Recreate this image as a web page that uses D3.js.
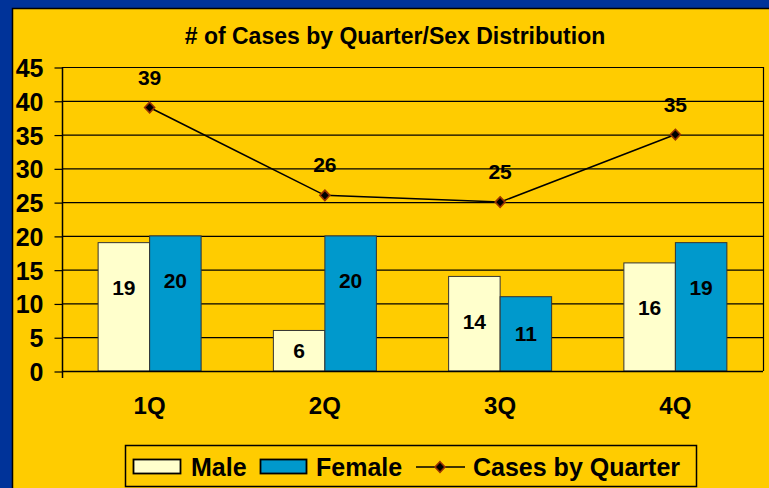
<!DOCTYPE html>
<html><head><meta charset="utf-8">
<script src="https://cdn.jsdelivr.net/npm/d3@7"></script>
<style>body{margin:0;background:#003399;} svg{display:block;} text{font-family:Arial,"Liberation Sans",sans-serif;font-weight:bold;fill:#000;}</style>
</head><body>
<svg id="c" width="769" height="488"></svg>
<script>
const categories = ["1Q","2Q","3Q","4Q"];
const maleValues = [19, 6, 14, 16];
const femaleValues = [20, 20, 11, 19];
const totalValues = [39, 26, 25, 35];
const yTicks = [0,5,10,15,20,25,30,35,40,45];
const title = "# of Cases by Quarter/Sex Distribution";
const seriesNames = ["Male","Female","Cases by Quarter"];

const svg = d3.select("#c");
svg.append("rect").attr("x",0).attr("y",0).attr("width",769).attr("height",488).attr("fill","#003399");
svg.append("rect").attr("x",12.5).attr("y",8.5).attr("width",800).attr("height",500)
  .attr("fill","#FFCC00").attr("stroke","#000").attr("stroke-width",1.5);

const L=62, R=763, T=67, B=371;
const x = d3.scaleBand().domain(categories).range([L,R]);
const y = d3.scaleLinear().domain([0,45]).range([B,T]);
const bw = 51.5;

svg.append("text").attr("x",395).attr("y",44).attr("text-anchor","middle").attr("font-size",23).text(title);

// gridlines
svg.append("g").selectAll("line").data(yTicks).join("line")
  .attr("x1",L).attr("x2",R).attr("y1",d=>y(d)+0.5).attr("y2",d=>y(d)+0.5)
  .attr("stroke","#000").attr("stroke-width",1.2);
svg.append("line").attr("x1",R+0.5).attr("x2",R+0.5).attr("y1",T).attr("y2",B).attr("stroke","#000").attr("stroke-width",1.2);

// y axis
const yAxis = d3.axisLeft(y).tickValues(yTicks).tickSize(8).tickPadding(11);
const gy = svg.append("g").attr("transform",`translate(${L+0.5},0.5)`).call(yAxis);
gy.select(".domain").remove();
gy.selectAll(".tick line").attr("stroke","#000").attr("stroke-width",1.2);
gy.selectAll("text").attr("font-size",25).attr("dy","0.36em").attr("fill","#000")
  .attr("font-family","Arial, 'Liberation Sans', sans-serif").attr("font-weight","bold");
svg.append("line").attr("x1",L+0.5).attr("x2",L+0.5).attr("y1",T).attr("y2",B+7).attr("stroke","#000").attr("stroke-width",1.5);

// bars
const cx = c => x(c)+x.bandwidth()/2;
svg.append("g").selectAll("rect").data(categories).join("rect")
  .attr("x",c=>cx(c)-bw).attr("width",bw)
  .attr("y",(c,i)=>y(maleValues[i])).attr("height",(c,i)=>B-y(maleValues[i]))
  .attr("fill","#FFFFCC").attr("stroke","#333").attr("stroke-width",1);
svg.append("g").selectAll("rect").data(categories).join("rect")
  .attr("x",c=>cx(c)).attr("width",bw)
  .attr("y",(c,i)=>y(femaleValues[i])).attr("height",(c,i)=>B-y(femaleValues[i]))
  .attr("fill","#0099CC").attr("stroke","#333").attr("stroke-width",1);
svg.append("line").attr("x1",L).attr("x2",R).attr("y1",B+0.5).attr("y2",B+0.5).attr("stroke","#000").attr("stroke-width",1.5);

// bar labels
const labelY = v => Math.min(y(v)+45, (y(v)+B)/2) + 7.5;
svg.append("g").selectAll("text").data(categories).join("text")
  .attr("x",c=>cx(c)-bw/2).attr("y",(c,i)=>labelY(maleValues[i]))
  .attr("text-anchor","middle").attr("font-size",21).text((c,i)=>maleValues[i]);
svg.append("g").selectAll("text").data(categories).join("text")
  .attr("x",c=>cx(c)+bw/2).attr("y",(c,i)=>labelY(femaleValues[i]))
  .attr("text-anchor","middle").attr("font-size",21).text((c,i)=>femaleValues[i]);

// line
const line = d3.line().x((d,i)=>cx(categories[i])).y(d=>y(d));
svg.append("path").datum(totalValues).attr("d",line).attr("fill","none").attr("stroke","#000").attr("stroke-width",1.5);
const diamondType = {draw(ctx,size){const w=size, h=size*1.05; ctx.moveTo(0,-h); ctx.lineTo(w,0); ctx.lineTo(0,h); ctx.lineTo(-w,0); ctx.closePath();}};
const diamond = d3.symbol().type(diamondType).size(5);
svg.append("g").selectAll("path").data(totalValues).join("path")
  .attr("d",diamond).attr("transform",(d,i)=>`translate(${cx(categories[i])},${y(d)})`)
  .attr("fill","#000").attr("stroke","#993300").attr("stroke-width",1.6);
svg.append("g").selectAll("text").data(totalValues).join("text")
  .attr("x",(d,i)=>cx(categories[i])).attr("y",d=>y(d)-23)
  .attr("text-anchor","middle").attr("font-size",21).text(d=>d);

// x labels
svg.append("g").selectAll("text").data(categories).join("text")
  .attr("x",c=>cx(c)).attr("y",414).attr("text-anchor","middle").attr("font-size",24).text(c=>c);

// legend
const lg = svg.append("g");
lg.append("rect").attr("x",125.5).attr("y",445.5).attr("width",571).attr("height",41).attr("fill","#FFCC00").attr("stroke","#000").attr("stroke-width",1.5);
lg.append("rect").attr("x",133.5).attr("y",459.5).attr("width",47).attr("height",14).attr("fill","#FFFFCC").attr("stroke","#000").attr("stroke-width",1.8);
lg.append("text").attr("x",191).attr("y",476).attr("font-size",25).text(seriesNames[0]);
lg.append("rect").attr("x",260.5).attr("y",459.5).attr("width",46).attr("height",14).attr("fill","#0099CC").attr("stroke","#000").attr("stroke-width",1.8);
lg.append("text").attr("x",316).attr("y",476).attr("font-size",25).text(seriesNames[1]);
lg.append("line").attr("x1",416).attr("x2",465).attr("y1",467).attr("y2",467).attr("stroke","#000").attr("stroke-width",1.5);
lg.append("path").attr("d",diamond).attr("transform","translate(440,467)").attr("fill","#000").attr("stroke","#993300").attr("stroke-width",1.6);
lg.append("text").attr("x",473).attr("y",476).attr("font-size",25).text(seriesNames[2]);
</script>
</body></html>
